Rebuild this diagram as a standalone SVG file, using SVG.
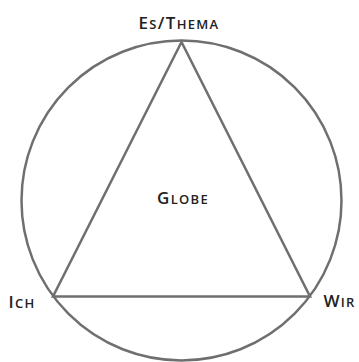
<svg xmlns="http://www.w3.org/2000/svg" width="359" height="362" viewBox="0 0 359 362">
<style>
.ln{fill:none;stroke:#6f6f6f;stroke-width:2.5;stroke-linejoin:miter}
.lb{font-family:"Open Sans","Noto Sans",sans-serif;font-weight:600;font-size:17px;font-variant:small-caps;letter-spacing:1.3px;fill:#222}
.sc{font-size:19px}
</style>
<rect width="359" height="362" fill="#fff"/>
<g id="connectors">
<circle class="ln" cx="181.5" cy="200.5" r="160"/>
<polygon class="ln" points="181.5,42 53,296.5 310,296.5"/>
</g>
<g id="es-thema"><text class="lb" x="179" y="29" text-anchor="middle">E<tspan class="sc">s</tspan>/T<tspan class="sc">hema</tspan></text></g>
<g id="globe"><text class="lb" x="183" y="204" text-anchor="middle">G<tspan class="sc">lobe</tspan></text></g>
<g id="ich"><text class="lb" x="22" y="308" text-anchor="middle">I<tspan class="sc">ch</tspan></text></g>
<g id="wir"><text class="lb" x="339.5" y="307" text-anchor="middle">W<tspan class="sc">ir</tspan></text></g>
</svg>
